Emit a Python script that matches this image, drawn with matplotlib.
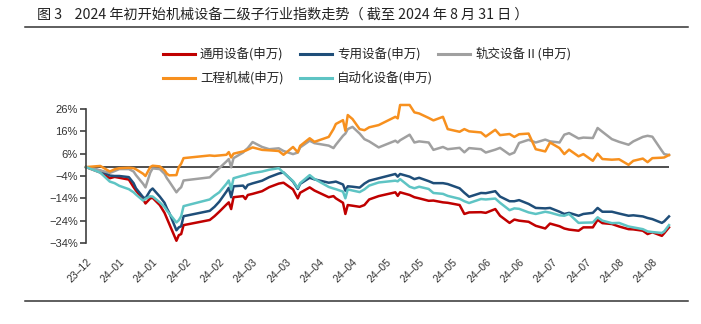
import pandas as pd
import matplotlib
matplotlib.use('Agg')
import matplotlib.pyplot as plt
from matplotlib.ticker import FixedLocator, FuncFormatter
from matplotlib.lines import Line2D

plt.rcParams['font.family'] = ['Noto Sans CJK SC', 'DejaVu Sans']

TITLE = '图 3    2024 年初开始机械设备二级子行业指数走势（ 截至 2024 年 8 月 31 日 ）'

dates = [
    '2023-12-29', '2024-01-04', '2024-01-08', '2024-01-10', '2024-01-12', '2024-01-16',
    '2024-01-18', '2024-01-19', '2024-01-22', '2024-01-23', '2024-01-25', '2024-01-26',
    '2024-01-29', '2024-01-31', '2024-02-01', '2024-02-02', '2024-02-05', '2024-02-06',
    '2024-02-07', '2024-02-08', '2024-02-19', '2024-02-21', '2024-02-23', '2024-02-26',
    '2024-02-27', '2024-02-28', '2024-02-29', '2024-03-04', '2024-03-05', '2024-03-06',
    '2024-03-08', '2024-03-12', '2024-03-15', '2024-03-19', '2024-03-21', '2024-03-25',
    '2024-03-27', '2024-03-28', '2024-04-01', '2024-04-03', '2024-04-09', '2024-04-11',
    '2024-04-12', '2024-04-15', '2024-04-16', '2024-04-17', '2024-04-19', '2024-04-22',
    '2024-04-24', '2024-04-26', '2024-04-30', '2024-05-07', '2024-05-08', '2024-05-09',
    '2024-05-13', '2024-05-15', '2024-05-17', '2024-05-21', '2024-05-23', '2024-05-27',
    '2024-05-29', '2024-06-03', '2024-06-05', '2024-06-07', '2024-06-12', '2024-06-14',
    '2024-06-18', '2024-06-20', '2024-06-24', '2024-06-26', '2024-06-28', '2024-07-02',
    '2024-07-05', '2024-07-09', '2024-07-11', '2024-07-15', '2024-07-17', '2024-07-19',
    '2024-07-23', '2024-07-25', '2024-07-29', '2024-07-31', '2024-08-02', '2024-08-06',
    '2024-08-09', '2024-08-13', '2024-08-15', '2024-08-19', '2024-08-21', '2024-08-23',
    '2024-08-27', '2024-08-28', '2024-08-30',
]

# cumulative change since 2023-12-29, %
general_equip = [
    0, -2.4, -5.0, -4.4, -4.8, -5.6, -9.0, -10.5, -14.5, -16.3,
    -14.0, -13.8, -17.0, -20.5, -23.0, -25.5, -33.0, -30.5, -30.0, -26.0,
    -23.7, -22.0, -20.0, -16.8, -15.8, -18.8, -13.5, -13.0, -14.3, -12.5,
    -12.0, -10.8, -9.0, -7.4, -7.0, -10.0, -14.0, -11.5, -9.1, -10.5,
    -13.5, -13.0, -14.0, -16.0, -21.0, -17.0, -17.3, -17.8, -17.0, -14.5,
    -13.0, -11.3, -12.9, -11.3, -12.5, -13.5, -14.0, -15.1, -15.0, -15.8,
    -16.0, -17.0, -21.0, -20.3, -20.2, -20.5, -18.8, -21.8, -25.0, -23.5,
    -24.0, -24.5, -26.3, -27.5, -25.3, -26.5, -27.5, -28.0, -28.5, -27.0,
    -27.0, -23.6, -25.1, -25.5, -26.6, -27.8, -27.9, -28.5, -30.0, -29.2,
    -30.8, -29.6, -27.0,
]
special_equip = [
    0, -1.6, -3.8, -4.0, -4.0, -4.5, -7.2, -9.5, -13.5, -14.0,
    -10.5, -9.6, -13.2, -16.0, -18.5, -20.5, -28.3, -27.0, -26.5, -22.0,
    -19.6, -17.8, -15.5, -11.0, -9.3, -13.5, -8.6, -8.3, -9.6, -8.0,
    -7.3, -6.1, -4.5, -2.9, -2.4, -6.5, -9.8, -7.5, -4.8, -5.5,
    -7.0, -6.7, -6.5, -7.8, -10.6, -8.6, -8.8, -9.2, -7.4, -6.1,
    -5.0, -3.1, -4.3, -3.1, -4.3, -5.4, -4.8, -6.3, -7.2, -7.2,
    -7.6, -9.5, -11.5, -13.3, -11.6, -11.7, -10.8, -13.2, -15.3, -15.3,
    -14.8, -16.5, -18.3, -18.5, -18.3, -20.0, -21.0, -20.5, -21.8, -21.0,
    -20.5, -18.3, -20.0, -20.0, -20.8, -21.8, -21.6, -22.1, -22.8, -23.3,
    -25.0, -24.3, -22.1,
]
rail_equip = [
    0, -1.5, -2.6, -1.8, -0.9, -0.9, -2.0, -3.6, -7.5, -9.1,
    -2.5, -0.6, -0.9, -3.0, -5.0, -6.5, -11.3, -10.0, -9.0, -6.0,
    -4.6, -2.5, -0.5, 2.5, 3.6, -0.1, 4.0, 6.5, 7.6, 8.5,
    11.2, 9.0, 8.0, 8.4, 7.2, 5.8, 6.5, 8.8, 11.8, 10.7,
    9.6, 8.5, 10.0, 14.0, 15.0, 17.0, 18.0, 15.0, 12.5, 11.5,
    8.8, 11.8, 11.0, 12.0, 14.5, 11.0, 11.5, 11.0, 7.7, 9.0,
    8.0, 8.6, 6.6, 8.5, 8.0, 6.5, 7.8, 8.6, 5.6, 6.5,
    10.8, 12.2, 11.0, 12.3, 11.5, 11.0, 14.5, 15.2, 12.8, 13.2,
    13.0, 17.5, 15.8, 12.5, 11.3, 10.0, 11.5, 13.5, 14.0, 13.6,
    7.3, 5.8, 5.4,
]
construction_mach = [
    0, 0.5, -2.0, -1.0, -0.5, -0.3, -0.5, -1.0, -3.0, -4.0,
    0.0, 0.6, 0.3, -1.5, -3.0, -3.7, -3.6, 0.0, 1.5, 4.0,
    5.2, 5.0, 5.2, 5.5, 6.7, 4.3, 6.0, 7.0, 7.3, 7.8,
    8.8, 7.7, 7.5, 7.2, 5.5, 9.0, 6.6, 9.5, 12.9, 11.3,
    13.5, 17.0, 19.3, 21.0, 16.3, 23.3, 21.5, 17.0, 16.5, 17.8,
    18.8, 22.5, 21.8, 27.8, 27.8, 24.5, 24.0, 22.0, 20.9, 22.5,
    17.0, 15.8, 17.0, 16.0, 15.5, 13.7, 16.7, 14.3, 14.8, 13.5,
    14.7, 15.0, 8.0, 7.0, 11.0, 8.5, 5.8, 7.8, 4.8, 5.8,
    2.8, 6.0, 3.6, 3.3, 3.5, 1.0, 2.8, 3.8, 2.2, 4.0,
    4.2, 4.3, 5.4,
]
automation_equip = [
    0, -2.5, -6.5, -7.2, -8.4, -9.9, -11.3, -12.3, -15.0, -14.2,
    -13.1, -13.2, -15.8, -17.9, -19.5, -20.8, -24.8, -23.8, -22.0, -17.5,
    -14.5, -12.8, -11.3, -7.5, -6.0, -9.9, -5.0, -3.8, -3.6, -3.2,
    -2.7, -2.0, -1.2, -0.5, -2.5, -6.3, -9.3, -7.2, -3.6, -5.3,
    -8.9, -9.6, -9.9, -11.0, -14.0, -10.0, -10.5, -11.2, -10.0, -8.3,
    -6.9, -6.1, -6.4, -5.4, -8.8, -9.5, -8.8, -9.8, -11.6, -12.0,
    -12.9, -14.2, -15.3, -16.1, -14.3, -14.5, -14.1, -16.0, -19.3, -18.5,
    -18.7, -20.3, -21.0, -20.0, -20.4, -21.6, -21.8, -21.0, -25.0, -24.9,
    -24.8, -22.5, -24.0, -25.1, -25.0, -26.6, -27.0, -27.8, -28.8, -29.1,
    -29.5, -28.8, -26.0,
]

series = [
    ('通用设备(申万)', general_equip, '#C00000'),
    ('专用设备(申万)', special_equip, '#1F4E79'),
    ('轨交设备Ⅱ(申万)', rail_equip, '#A0A0A0'),
    ('工程机械(申万)', construction_mach, '#F7901E'),
    ('自动化设备(申万)', automation_equip, '#5EC4C4'),
]

x = pd.to_datetime(dates)

W, H = 701, 324
fig = plt.figure(figsize=(W / 100, H / 100), dpi=100)
ax = fig.add_axes([86 / W, 1 - 243 / H, (669 - 86) / W, (243 - 109) / H])

for name, vals, color in series:
    ax.plot(x, vals, color=color, lw=1.8, solid_joinstyle='round', clip_on=False)

ax.axhline(0, color='#404040', lw=1.3, zorder=1)

ax.set_xlim(x[0], x[-1])
ax.set_ylim(-34, 26)

# y axis: ticks every 10% from -34% to 26%
ax.yaxis.set_major_locator(FixedLocator(range(-34, 27, 10)))
ax.yaxis.set_major_formatter(FuncFormatter(lambda v, p: f'{v:.0f}%'.replace('-', '\u2212')))
ax.tick_params(axis='y', direction='out', length=4, width=1.2, color='#404040',
               labelsize=8, labelcolor='#333333', pad=2)

# x axis: a label every 14 calendar days
xt = pd.date_range(x[0], x[-1], freq='14D')
ax.set_xticks(xt)
ax.set_xticklabels([d.strftime('%y–%m') for d in xt], rotation=45, ha='right',
                   rotation_mode='anchor', fontsize=7.5, color='#333333',
                   family=['Liberation Sans', 'DejaVu Sans'])
ax.tick_params(axis='x', length=0, pad=10)
for lab in ax.get_yticklabels():
    lab.set_family(['Liberation Sans', 'DejaVu Sans'])

for s in ['top', 'right', 'bottom']:
    ax.spines[s].set_visible(False)
ax.spines['left'].set_color('#404040')
ax.spines['left'].set_linewidth(1.2)

# legend laid out by hand: three entries on the first row, two on the second
slots = [(163, 54), (300, 54), (438, 54), (163, 78), (300, 78)]
for (name, vals, color), (px, py) in zip(series, slots):
    fy = 1 - py / H
    fig.add_artist(Line2D([px / W, (px + 32) / W], [fy, fy], color=color, lw=2.2))
    fig.text((px + 37) / W, fy, name, fontsize=9, color='#222222', va='center', ha='left')

# title and rules
fig.text(37 / W, 1 - 15 / H, TITLE, fontsize=10.2, color='#222222', va='center', ha='left')
fig.add_artist(Line2D([25 / W, 688 / W], [1 - 27 / H] * 2, color='#333333', lw=1.1))
fig.add_artist(Line2D([25 / W, 688 / W], [1 - 301 / H] * 2, color='#333333', lw=1.1))

fig.savefig('out.png', dpi=100)
